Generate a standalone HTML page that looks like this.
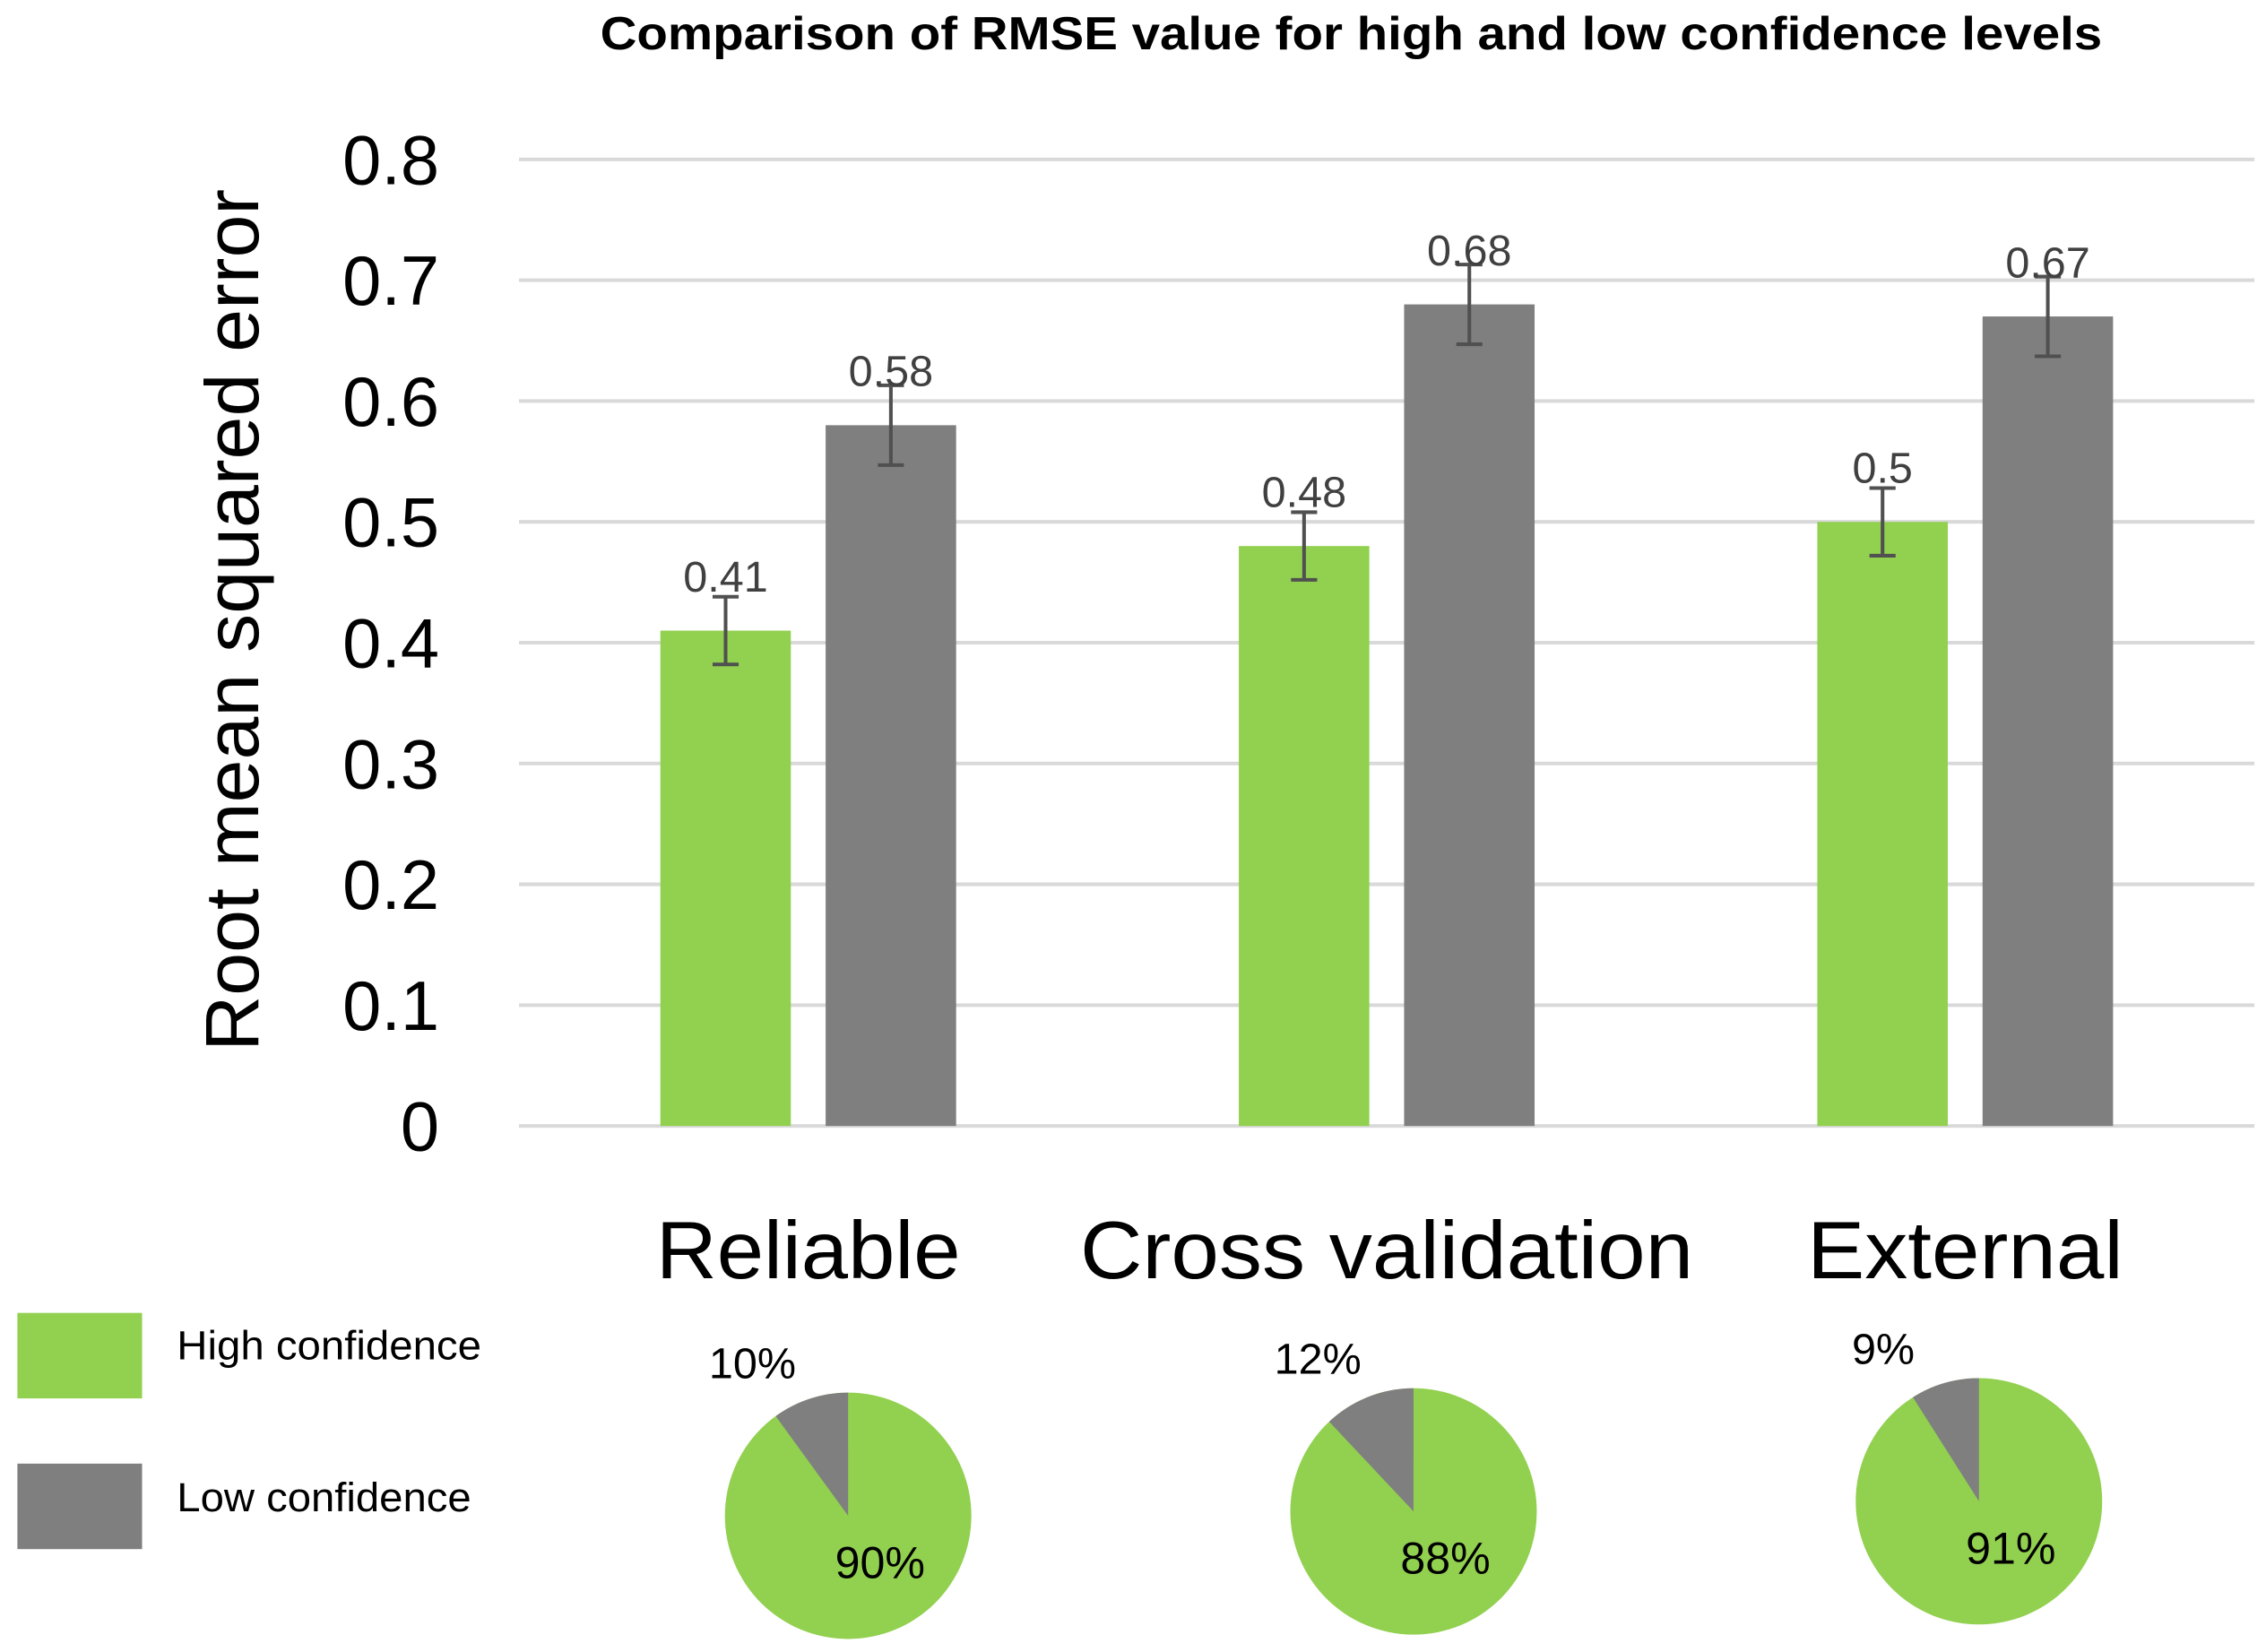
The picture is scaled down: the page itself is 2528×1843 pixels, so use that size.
<!DOCTYPE html>
<html><head><meta charset="utf-8"><style>
html,body{margin:0;padding:0;background:#fff;}
svg{display:block;font-family:"Liberation Sans",sans-serif;}
</style></head><body>
<svg id="chart" width="2528" height="1843" viewBox="0 0 1563 1140" preserveAspectRatio="none" xmlns="http://www.w3.org/2000/svg">
<text x="932" y="34" text-anchor="middle" font-size="32" font-weight="bold" fill="#000" textLength="1036" lengthAdjust="spacingAndGlyphs">Comparison of RMSE value for high and low confidence levels</text>
<text transform="translate(178,428) rotate(-90)" text-anchor="middle" font-size="52" fill="#000" textLength="595" lengthAdjust="spacingAndGlyphs">Root mean squared error</text>
<g id="grid"></g><g id="bars"></g><g id="pies"></g>
<g>
<rect x="12" y="906" width="86" height="59" fill="#92d050"/>
<text x="122" y="938" font-size="28" fill="#000" textLength="210" lengthAdjust="spacingAndGlyphs">High confidence</text>
<rect x="12" y="1010" width="86" height="59" fill="#7f7f7f"/>
<text x="122" y="1043" font-size="28" fill="#000" textLength="203" lengthAdjust="spacingAndGlyphs">Low confidence</text>
</g>
</svg>
<script>
const categories = ["Reliable", "Cross validation", "External"];
const highValues = [0.41, 0.48, 0.5];
const lowValues = [0.58, 0.68, 0.67];
const highErr = [0.028, 0.028, 0.028];
const lowErr = [0.033, 0.033, 0.033];
const highLabels = ["0.41", "0.48", "0.5"];
const lowLabels = ["0.58", "0.68", "0.67"];
const yTicks = [0, 0.1, 0.2, 0.3, 0.4, 0.5, 0.6, 0.7, 0.8];
const yTickLabels = ["0", "0.1", "0.2", "0.3", "0.4", "0.5", "0.6", "0.7", "0.8"];
const pieHighPct = [90, 88, 91];
const pieLowPct = [10, 12, 9];

const NS = "http://www.w3.org/2000/svg";
const x0 = 358, x1 = 1555, y0 = 777, yTop = 110;
const catLen = [210, 423, 218];
function yScale(v){ return y0 - (v/0.8)*(y0-yTop); }
function xCenter(i){ return x0 + (x1-x0)/categories.length*(i+0.5); }
function mk(tag, attrs, parent){ const e=document.createElementNS(NS,tag); for(const k in attrs) e.setAttribute(k,attrs[k]); parent.appendChild(e); return e; }

const grid = document.getElementById('grid');
yTicks.forEach((t,i)=>{
  const l = mk('line',{x1:x0,x2:x1,y1:yScale(t),y2:yScale(t),stroke:'#d9d9d9','stroke-width':2.5},grid);
  
  
  const tx = mk('text',{x:303,y:yScale(t)+17,'text-anchor':'end','font-size':48,fill:'#000'},grid);
  tx.textContent = yTickLabels[i];
  
  
});

const bars = document.getElementById('bars');
const bw = 90, gap = 24;
categories.forEach((c,i)=>{
  const cx = xCenter(i);
  [[highValues,highErr,highLabels,'#92d050',cx-gap/2-bw,'bar-high'],[lowValues,lowErr,lowLabels,'#7f7f7f',cx+gap/2,'bar-low']].forEach(s=>{
    const v=s[0][i], e=s[1][i], x=s[4];
    const r = mk('rect',{x:x,y:yScale(v),width:bw,height:y0-yScale(v),fill:s[3]},bars);
    
    
    const mx = x+bw/2;
    const eb = mk('path',{d:`M${mx},${yScale(v+e)}V${yScale(v-e)}M${mx-9},${yScale(v+e)}H${mx+9}M${mx-9},${yScale(v-e)}H${mx+9}`,stroke:'#505050','stroke-width':2.5,fill:'none'},bars);
    
    
    const lb = mk('text',{x:mx,y:yScale(v)-27,'text-anchor':'middle','font-size':30,fill:'#404040'},bars);
    lb.textContent = s[2][i];
    
    
  });
  const cl = mk('text',{x:cx,y:882,'text-anchor':'middle','font-size':56,fill:'#000',textLength:catLen[i],lengthAdjust:'spacingAndGlyphs'},bars);
  cl.textContent = c;
  
  
});

const pies = document.getElementById('pies');
const pieCx = [585,975,1365], pieCy=[1046,1043,1036], R=85;
categories.forEach((c,i)=>{
  const cx=pieCx[i], cy=pieCy[i];
  const ci = mk('circle',{cx:cx,cy:cy,r:R,fill:'#92d050'},pies);
  
  
  const a = pieLowPct[i]/100*2*Math.PI;
  const ex = cx - R*Math.sin(a), ey = cy - R*Math.cos(a);
  const sl = mk('path',{d:`M${cx},${cy}L${cx},${cy-R}A${R},${R} 0 ${a>Math.PI?1:0} 0 ${ex},${ey}Z`,fill:'#7f7f7f'},pies);
  
  
  const t1 = mk('text',{x:cx-66,y:cy-95,'text-anchor':'middle','font-size':30,fill:'#000'},pies);
  t1.textContent = pieLowPct[i]+'%';
  
  
  const t2 = mk('text',{x:cx+22,y:cy+43,'text-anchor':'middle','font-size':31,fill:'#000'},pies);
  t2.textContent = pieHighPct[i]+'%';
  
  
});
</script>
</body></html>
